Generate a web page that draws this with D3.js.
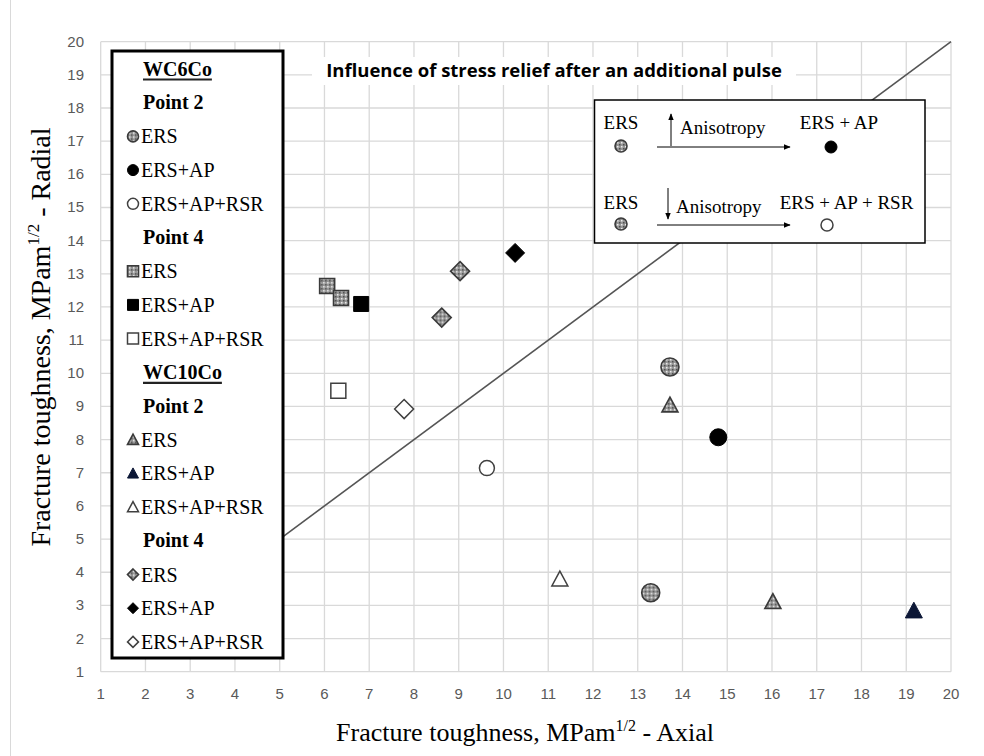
<!DOCTYPE html>
<html lang="en">
<head>
<meta charset="UTF-8">
<title>Influence of stress relief after an additional pulse</title>
<script src="https://cdn.jsdelivr.net/npm/d3@7"></script>
<style>
    body { margin: 0; background: #fff; }
    svg { display: block; }
    .tick-label { font-family: "Liberation Sans", Arial, sans-serif; font-size: 15px; fill: #595959; }
    .serif { font-family: "Liberation Serif", "Times New Roman", serif; fill: #000; }
</style>
</head>
<body>
<svg id="chart" width="984" height="756"></svg>
<script>
// axis ticks (both axes run 1..20)
const xTicks = [1, 2, 3, 4, 5, 6, 7, 8, 9, 10, 11, 12, 13, 14, 15, 16, 17, 18, 19, 20];
const yTicks = [1, 2, 3, 4, 5, 6, 7, 8, 9, 10, 11, 12, 13, 14, 15, 16, 17, 18, 19, 20];

// [axial, radial] pairs
const wc6p2Ers = [[13.72, 10.19], [13.29, 3.38]];
const wc6p2ErsAp = [[14.80, 8.07]];
const wc6p2ErsApRsr = [[9.63, 7.14]];
const wc6p4Ers = [[6.06, 12.63], [6.37, 12.27]];
const wc6p4ErsAp = [[6.82, 12.09]];
const wc6p4ErsApRsr = [[6.31, 9.47]];
const wc10p2Ers = [[13.72, 9.04], [16.02, 3.11]];
const wc10p2ErsAp = [[19.17, 2.84]];
const wc10p2ErsApRsr = [[11.26, 3.79]];
const wc10p4Ers = [[9.03, 13.08], [8.62, 11.68]];
const wc10p4ErsAp = [[10.26, 13.63]];
const wc10p4ErsApRsr = [[7.78, 8.92]];
const isotropyLine = [[5, 5], [20, 20]];

// legend rows: heading rows have no shape
const legendRows = [
    { label: "WC6Co", kind: "group" },
    { label: "Point 2", kind: "point" },
    { label: "ERS", shape: "circle", style: "hatch" },
    { label: "ERS+AP", shape: "circle", style: "solid" },
    { label: "ERS+AP+RSR", shape: "circle", style: "open" },
    { label: "Point 4", kind: "point" },
    { label: "ERS", shape: "square", style: "hatch" },
    { label: "ERS+AP", shape: "square", style: "solid" },
    { label: "ERS+AP+RSR", shape: "square", style: "open" },
    { label: "WC10Co", kind: "group" },
    { label: "Point 2", kind: "point" },
    { label: "ERS", shape: "triangle", style: "hatch" },
    { label: "ERS+AP", shape: "triangle", style: "navy" },
    { label: "ERS+AP+RSR", shape: "triangle", style: "open" },
    { label: "Point 4", kind: "point" },
    { label: "ERS", shape: "diamond", style: "hatch" },
    { label: "ERS+AP", shape: "diamond", style: "solid" },
    { label: "ERS+AP+RSR", shape: "diamond", style: "open" }
];

const series = [
    { data: wc6p2Ers, shape: "circle", style: "hatch", size: 18 },
    { data: wc6p2ErsAp, shape: "circle", style: "solid", size: 17 },
    { data: wc6p2ErsApRsr, shape: "circle", style: "open", size: 15 },
    { data: wc6p4Ers, shape: "square", style: "hatch", size: 15 },
    { data: wc6p4ErsAp, shape: "square", style: "solid", size: 15 },
    { data: wc6p4ErsApRsr, shape: "square", style: "open", size: 15 },
    { data: wc10p2Ers, shape: "triangle", style: "hatch", size: 16 },
    { data: wc10p2ErsAp, shape: "triangle", style: "navy", size: 17 },
    { data: wc10p2ErsApRsr, shape: "triangle", style: "open", size: 16 },
    { data: wc10p4Ers, shape: "diamond", style: "hatch", size: 19 },
    { data: wc10p4ErsAp, shape: "diamond", style: "solid", size: 19 },
    { data: wc10p4ErsApRsr, shape: "diamond", style: "open", size: 19 }
];

const svg = d3.select("#chart");
const plotL = 100.7, plotR = 951, plotT = 41.7, plotB = 671.7;

const x = d3.scaleLinear().domain([1, 20]).range([plotL, plotR]);
const y = d3.scaleLinear().domain([1, 20]).range([plotB, plotT]);

// hatched grey fill used by the ERS markers
const defs = svg.append("defs");
const pat = defs.append("pattern").attr("id", "hatch")
    .attr("patternUnits", "userSpaceOnUse").attr("width", 4).attr("height", 4);
pat.append("rect").attr("width", 4).attr("height", 4).attr("fill", "#969696");
pat.append("rect").attr("x", 0).attr("y", 0).attr("width", 1.5).attr("height", 1.5).attr("fill", "#ececec");
pat.append("rect").attr("x", 2).attr("y", 2).attr("width", 1.5).attr("height", 1.5).attr("fill", "#505050");

defs.append("marker").attr("id", "arrow")
    .attr("viewBox", "0 0 10 10").attr("refX", 9).attr("refY", 5)
    .attr("markerWidth", 7).attr("markerHeight", 7).attr("orient", "auto-start-reverse")
    .attr("markerUnits", "userSpaceOnUse")
    .append("path").attr("d", "M0,1 L10,5 L0,9 Z").attr("fill", "#000");

// outer frame edge on the left
svg.append("line").attr("x1", 10.5).attr("x2", 10.5).attr("y1", 0).attr("y2", 756)
    .attr("stroke", "#d9d9d9");

// gridlines
svg.append("g").selectAll("line").data(xTicks).join("line")
    .attr("x1", d => x(d)).attr("x2", d => x(d)).attr("y1", plotT).attr("y2", plotB)
    .attr("stroke", "#d9d9d9").attr("stroke-width", 1.3);
svg.append("g").selectAll("line").data(yTicks).join("line")
    .attr("x1", plotL).attr("x2", plotR).attr("y1", d => y(d)).attr("y2", d => y(d))
    .attr("stroke", "#d9d9d9").attr("stroke-width", 1.3);

// tick labels
svg.append("g").selectAll("text").data(xTicks).join("text")
    .attr("class", "tick-label").attr("x", d => x(d)).attr("y", plotB + 27)
    .attr("text-anchor", "middle").text(d => d);
svg.append("g").selectAll("text").data(yTicks).join("text")
    .attr("class", "tick-label").attr("x", 84).attr("y", d => y(d) + 5)
    .attr("text-anchor", "end").text(d => d);

// isotropy line y = x
svg.append("path").datum(isotropyLine)
    .attr("d", d3.line().x(d => x(d[0])).y(d => y(d[1])))
    .attr("fill", "none").attr("stroke", "#555").attr("stroke-width", 1.6);

function shapePath(shape, s) {
    const h = s / 2;
    if (shape === "circle") return d3.arc()({ innerRadius: 0, outerRadius: h, startAngle: 0, endAngle: 2 * Math.PI });
    if (shape === "square") return `M${-h},${-h}H${h}V${h}H${-h}Z`;
    if (shape === "diamond") return `M0,${-h}L${h},0L0,${h}L${-h},0Z`;
    if (shape === "triangle") return `M0,${-h}L${h},${h * 0.85}L${-h},${h * 0.85}Z`;
}

function styleMarker(sel, style) {
    if (style === "hatch") sel.attr("fill", "url(#hatch)").attr("stroke", "#3a3a3a").attr("stroke-width", 1.6);
    else if (style === "solid") sel.attr("fill", "#000").attr("stroke", "#000").attr("stroke-width", 1);
    else if (style === "navy") sel.attr("fill", "#0c1736").attr("stroke", "#0c1736").attr("stroke-width", 1);
    else sel.attr("fill", "#fff").attr("stroke", "#404040").attr("stroke-width", 1.5);
}

// data points
const pts = svg.append("g");
series.forEach(s => {
    pts.selectAll(null).data(s.data).join("path")
        .attr("transform", d => `translate(${x(d[0])},${y(d[1])})`)
        .attr("d", shapePath(s.shape, s.size))
        .call(styleMarker, s.style);
});

// legend box
const legend = svg.append("g");
legend.append("rect").attr("x", 112).attr("y", 51).attr("width", 171).attr("height", 607)
    .attr("fill", "#fff").attr("stroke", "#000").attr("stroke-width", 3);

legendRows.forEach((r, i) => {
    const cy = 69 + i * 33.7;
    if (r.kind) {
        const t = legend.append("text").attr("class", "serif")
            .attr("x", 143).attr("y", cy + 6.5)
            .attr("font-size", 20).attr("font-weight", "bold").text(r.label);
        if (r.kind === "group") {
            const w = t.node().getComputedTextLength();
            legend.append("line").attr("x1", 143).attr("x2", 143 + w)
                .attr("y1", cy + 10.5).attr("y2", cy + 10.5)
                .attr("stroke", "#222").attr("stroke-width", 2.2);
        }
    } else {
        legend.append("path").attr("transform", `translate(133,${cy})`)
            .attr("d", shapePath(r.shape, 11))
            .call(styleMarker, r.style);
        legend.append("text").attr("class", "serif")
            .attr("x", 141).attr("y", cy + 7)
            .attr("font-size", 20).text(r.label);
    }
});

// chart title on a white box
svg.append("rect").attr("x", 312).attr("y", 57).attr("width", 484).attr("height", 28).attr("fill", "#fff");
svg.append("text").attr("x", 554).attr("y", 77).attr("text-anchor", "middle")
    .attr("font-family", "'Open Sans', 'Liberation Sans', sans-serif").attr("font-weight", "bold")
    .attr("font-size", 18.5).attr("fill", "#000")
    .text("Influence of stress relief after an additional pulse");

// inset explaining the arrows
const inset = svg.append("g");
inset.append("rect").attr("x", 594.5).attr("y", 100).attr("width", 330.5).attr("height", 143)
    .attr("fill", "#fff").attr("stroke", "#000").attr("stroke-width", 1.5);

const insetRows = [
    { y0: 123, markY: 146, arrowDir: "up", result: "ERS + AP", resultX: 839, resStyle: "solid" },
    { y0: 203, markY: 224, arrowDir: "down", result: "ERS + AP + RSR", resultX: 846.5, resStyle: "open" }
];
insetRows.forEach(r => {
    inset.append("text").attr("class", "serif").attr("x", 621).attr("y", r.y0 + 6)
        .attr("text-anchor", "middle").attr("font-size", 19).text("ERS");
    inset.append("path").attr("transform", `translate(621,${r.markY})`)
        .attr("d", shapePath("circle", 12)).call(styleMarker, "hatch");
    inset.append("line").attr("x1", 657).attr("x2", 790).attr("y1", r.markY + 1).attr("y2", r.markY + 1)
        .attr("stroke", "#000").attr("stroke-width", 1).attr("marker-end", "url(#arrow)");
    if (r.arrowDir === "up") {
        inset.append("line").attr("x1", 671).attr("x2", 671).attr("y1", 146).attr("y2", 114)
            .attr("stroke", "#000").attr("stroke-width", 1).attr("marker-end", "url(#arrow)");
        inset.append("text").attr("class", "serif").attr("x", 680).attr("y", r.y0 + 11)
            .attr("font-size", 19).text("Anisotropy");
    } else {
        inset.append("line").attr("x1", 668).attr("x2", 668).attr("y1", 188).attr("y2", 219)
            .attr("stroke", "#000").attr("stroke-width", 1).attr("marker-end", "url(#arrow)");
        inset.append("text").attr("class", "serif").attr("x", 676).attr("y", r.y0 + 10)
            .attr("font-size", 19).text("Anisotropy");
    }
    inset.append("text").attr("class", "serif").attr("x", r.resultX).attr("y", r.y0 + 6)
        .attr("text-anchor", "middle").attr("font-size", 19).text(r.result);
    inset.append("path").attr("transform", `translate(${r.arrowDir === "up" ? 831 : 827},${r.markY + 1})`)
        .attr("d", shapePath("circle", 12)).call(styleMarker, r.resStyle);
});

// axis titles
const xt = svg.append("text").attr("class", "serif").attr("x", 525).attr("y", 741)
    .attr("text-anchor", "middle").attr("font-size", 26);
xt.append("tspan").text("Fracture toughness, MPam");
xt.append("tspan").attr("font-size", 16).attr("dy", -10).text("1/2");
xt.append("tspan").attr("dy", 10).text(" - Axial");

const yt = svg.append("text").attr("class", "serif")
    .attr("transform", "translate(50,337) rotate(-90)")
    .attr("text-anchor", "middle").attr("font-size", 28);
yt.append("tspan").text("Fracture toughness, MPam");
yt.append("tspan").attr("font-size", 17).attr("dy", -11).text("1/2");
yt.append("tspan").attr("dy", 11).text(" - Radial");
</script>
</body>
</html>
